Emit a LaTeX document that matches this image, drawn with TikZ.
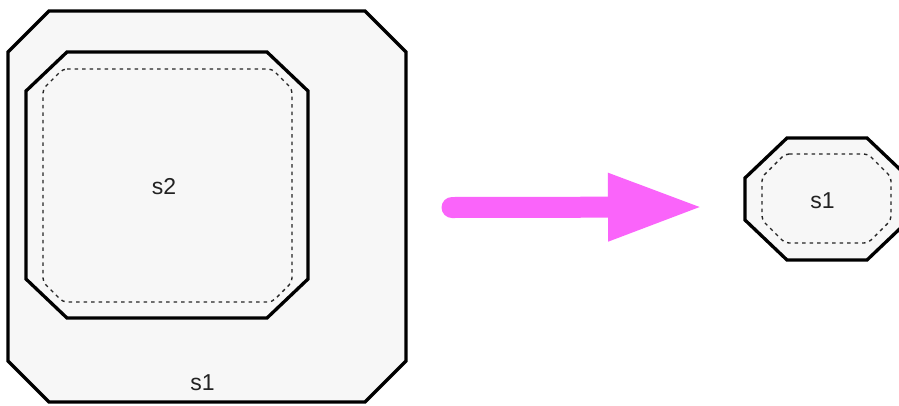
\documentclass[tikz,border=0pt]{standalone}
\usepackage{fontspec}
\setmainfont{Liberation Sans}
\usetikzlibrary{calc,arrows.meta}
\definecolor{boxfill}{HTML}{F7F7F7}
\definecolor{arrowpink}{RGB}{250,100,250}
\definecolor{txt}{HTML}{222222}
\newcommand\chamfpath[3]{($(#1.north west)+(#2,0)$) -- ($(#1.north east)+(-#2,0)$) -- ($(#1.north east)+(0,#3)$) -- ($(#1.south east)+(0,-#3)$) -- ($(#1.south east)+(-#2,0)$) -- ($(#1.south west)+(#2,0)$) -- ($(#1.south west)+(0,-#3)$) -- ($(#1.north west)+(0,#3)$) -- cycle}
\begin{document}
\begin{tikzpicture}[x=1pt,y=-1pt,
  frame/.style={draw=none,inner sep=0pt,outer sep=0pt},
  solidline/.style={draw=black,line width=3.3pt,fill=boxfill,line join=miter},
  dashline/.style={draw=black!85,line width=1.4pt,dash pattern=on 3.5pt off 4pt,rounded corners=4pt},
  lbl/.style={font=\fontsize{23}{27}\selectfont,text=txt,inner sep=0pt}]
\useasboundingbox (0,0) rectangle (899,405);
\fill[white] (0,0) rectangle (899,405);
\begin{scope}
\clip (0,0) rectangle (899,405);
% outer s1
\node[frame,minimum width=398pt,minimum height=391pt] (S1) at (207,206.5) {};
\draw[solidline] \chamfpath{S1}{41}{41};
% inner s2
\node[frame,minimum width=282pt,minimum height=266pt] (S2) at (167,185) {};
\draw[solidline] \chamfpath{S2}{41}{39};
\node[frame,minimum width=249pt,minimum height=233pt] (S2d) at (167.5,185.5) {};
\draw[dashline] \chamfpath{S2d}{20}{20};
% labels
\node[lbl] (t2) at (164,187) {s2};
\node[lbl] (t1) at (202.5,383) {s1};
% small s1
\node[frame,minimum width=164pt,minimum height=122pt] (R1) at (827,199) {};
\draw[solidline] \chamfpath{R1}{42}{40};
\node[frame,minimum width=129pt,minimum height=89pt] (R1d) at (826.5,198.5) {};
\draw[dashline] \chamfpath{R1d}{23}{23};
\node[lbl] (t3) at (822.5,200.5) {s1};
\end{scope}
% arrow
\coordinate (as) at (452,207.5);
\coordinate (ae) at (704,207);
\draw[arrowpink,line width=21pt,line cap=round,-{Triangle[length=96pt,width=62pt]}] (as) -- (ae);
\end{tikzpicture}
\end{document}
